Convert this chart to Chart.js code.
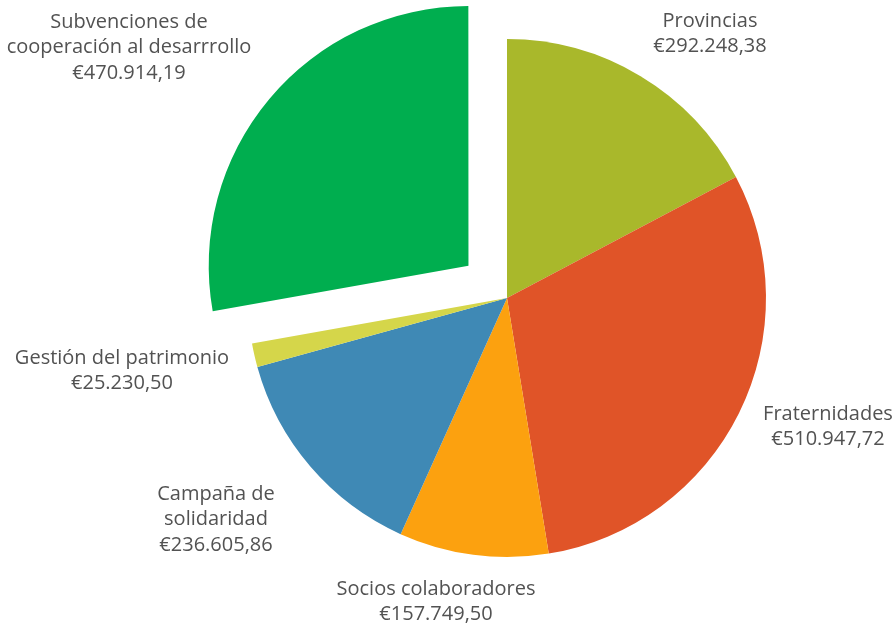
<!DOCTYPE html>
<html>
<head>
<meta charset="utf-8">
<script src="https://cdn.jsdelivr.net/npm/chart.js@4/dist/chart.umd.min.js"></script>
<style>
  html, body { margin: 0; padding: 0; background: #ffffff; }
  #wrap { width: 894px; height: 626px; position: relative; }
</style>
</head>
<body>
<div id="wrap"><canvas id="c" width="894" height="626"></canvas></div>
<script>
const categories = [
  ["Provincias"],
  ["Fraternidades"],
  ["Socios colaboradores"],
  ["Campaña de", "solidaridad"],
  ["Gestión del patrimonio"],
  ["Subvenciones de", "cooperación al desarrrollo"]
];
const values = [292248.38, 510947.72, 157749.50, 236605.86, 25230.50, 470914.19];
const valueLabels = ["€292.248,38", "€510.947,72", "€157.749,50", "€236.605,86", "€25.230,50", "€470.914,19"];
const colors = ["#a9b82b", "#e05428", "#fca10f", "#3f89b5", "#d5d64a", "#00ae4f"];
const explode = [0, 0, 0, 0, 0, 201];

// label anchor positions (center x, first line middle y)
const labelLayout = [
  {x: 710, y: 21},
  {x: 828, y: 414},
  {x: 436, y: 589},
  {x: 216, y: 494},
  {x: 122, y: 358},
  {x: 129, y: 22}
];

const labelPlugin = {
  id: 'labels',
  afterDraw(chart) {
    const ctx = chart.ctx;
    ctx.save();
    ctx.fillStyle = '#525252';
    ctx.font = '20px "Open Sans"';
    ctx.textAlign = 'center';
    ctx.textBaseline = 'middle';
    const lh = 25.5;
    categories.forEach((lines, i) => {
      const pos = labelLayout[i];
      const all = lines.concat([valueLabels[i]]);
      all.forEach((t, k) => ctx.fillText(t, pos.x, pos.y + k * lh));
    });
    ctx.restore();
  }
};

new Chart(document.getElementById('c'), {
  type: 'pie',
  data: {
    labels: categories.map(l => l.join(' ')),
    datasets: [{
      data: values,
      backgroundColor: colors,
      borderWidth: 0,
      offset: explode
    }]
  },
  options: {
    responsive: false,
    animation: false,
    radius: 259,
    layout: { padding: { left: 120, right: 0, top: 0, bottom: 30 } },
    plugins: {
      legend: { display: false },
      tooltip: { enabled: false }
    }
  },
  plugins: [labelPlugin]
});
</script>
</body>
</html>
